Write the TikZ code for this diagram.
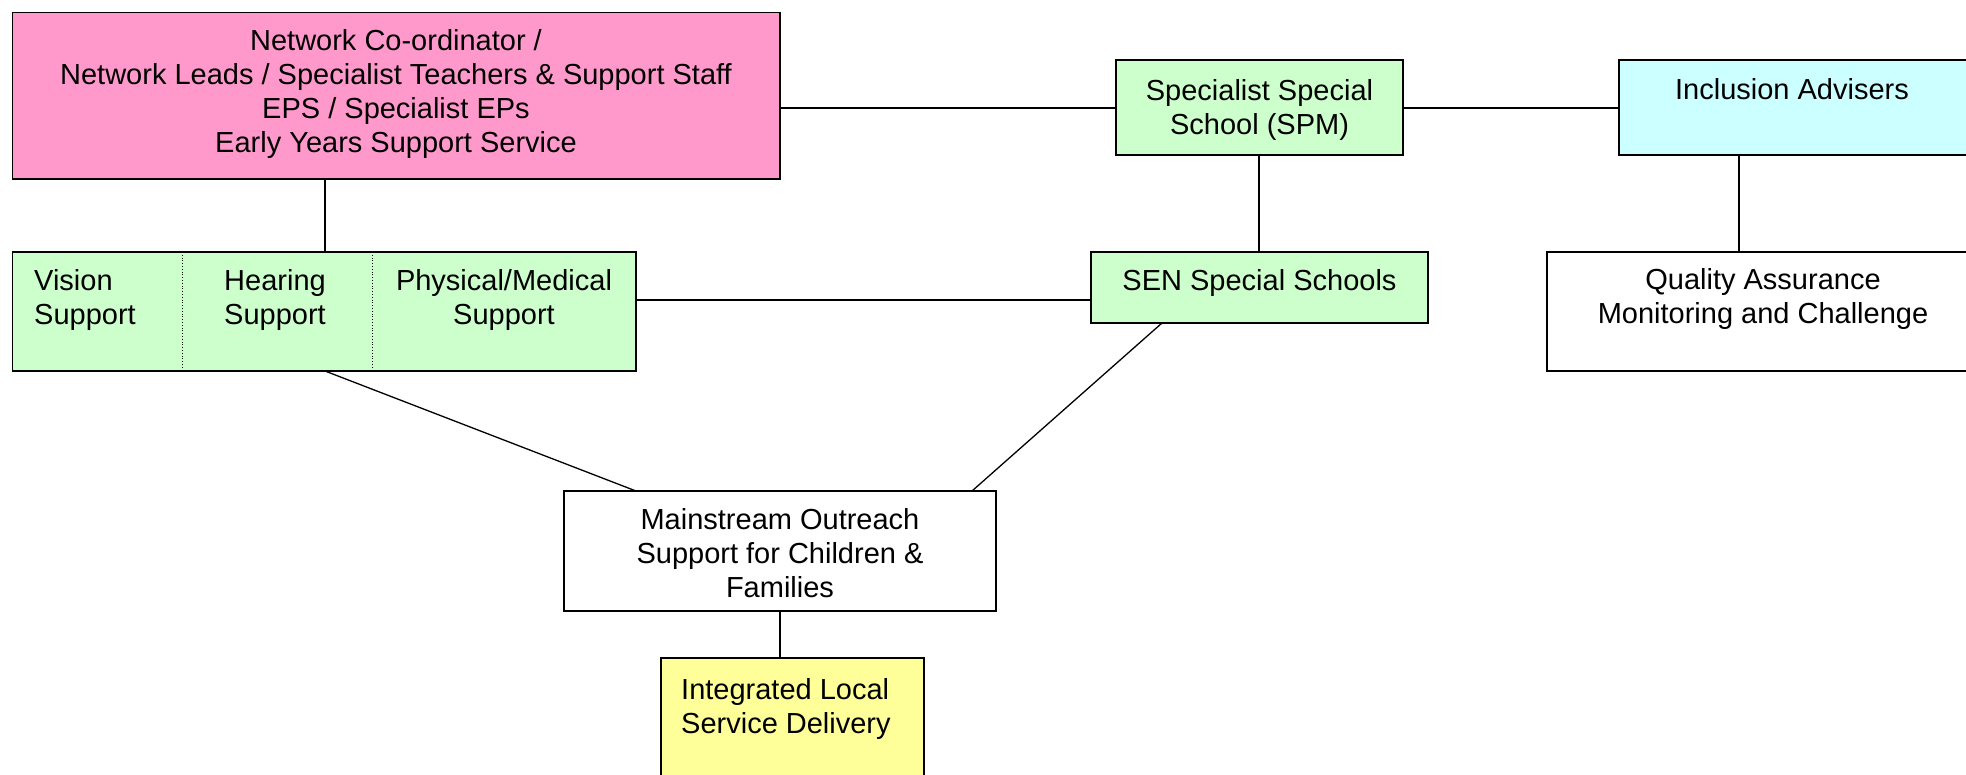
\documentclass[tikz,border=0pt]{standalone}
\usepackage{fontspec}
\setmainfont{Liberation Sans}
\definecolor{pinkfill}{HTML}{FF99CC}
\definecolor{greenfill}{HTML}{CCFFCC}
\definecolor{cyanfill}{HTML}{CCFFFF}
\definecolor{yellowfill}{HTML}{FFFF99}
\begin{document}
\begin{tikzpicture}[x=1pt,y=-1pt,
  box/.style={draw=black, line width=1.6pt, rectangle, inner sep=0pt, outer sep=0pt},
  txt/.style={inner sep=0pt, align=center, font=\fontsize{29}{34}\selectfont},
  link/.style={draw=black, line width=1.3pt},
  divider/.style={draw=black, line width=0.8pt, dotted}]
\useasboundingbox (0,0) rectangle (1966,775);
% boxes
\node[box, fill=pinkfill, minimum width=767.5pt, minimum height=166.5pt] (pink) at (396.25,95.75) {};
\node[box, fill=greenfill, minimum width=287pt, minimum height=95pt] (spm) at (1259.5,107.5) {};
\node[box, fill=cyanfill, minimum width=360pt, minimum height=95pt] (incl) at (1799,107.5) {};
\node[box, fill=greenfill, minimum width=623.5pt, minimum height=119pt] (vhp) at (324.25,311.5) {};
\node[box, fill=greenfill, minimum width=337pt, minimum height=71pt] (sen) at (1259.5,287.5) {};
\node[box, fill=white, minimum width=433pt, minimum height=119pt] (qa) at (1763.5,311.5) {};
\node[box, fill=white, minimum width=432pt, minimum height=120pt] (main) at (780,551) {};
\node[box, fill=yellowfill, minimum width=263pt, minimum height=140pt] (ild) at (792.5,728) {};
% dividers
\coordinate (d1) at (182,0);
\coordinate (d2) at (372,0);
\draw[divider] (vhp.north -| d1) -- (vhp.south -| d1);
\draw[divider] (vhp.north -| d2) -- (vhp.south -| d2);
% texts
\node[txt] (tpink) at (396,94) {Network Co-ordinator /\\Network Leads / Specialist Teachers \& Support Staff\\EPS / Specialist EPs\\Early Years Support Service};
\node[txt] (tspm) at (1259.5,109.5) {Specialist Special\\School (SPM)};
\node[txt] (tincl) at (1792,89.5) {Inclusion Advisers};
\node[txt, align=left, anchor=west] (tvis) at (34,300) {Vision\\Support};
\node[txt] (thear) at (275,300) {Hearing\\Support};
\node[txt] (tphys) at (504,300) {Physical/Medical\\Support};
\node[txt] (tsen) at (1259.5,283.5) {SEN Special Schools};
\node[txt] (tqa) at (1763,299) {Quality Assurance\\Monitoring and Challenge};
\node[txt] (tmain) at (780,553.5) {Mainstream Outreach\\Support for Children \&\\Families};
\node[txt, align=left, anchor=west] (tild) at (681,708.5) {Integrated Local\\Service Delivery};
% connectors
\coordinate (cpv) at (325,0);
\coordinate (cspm) at (1259,0);
\coordinate (cqa) at (1739,0);
\coordinate (cm1) at (636,0);
\coordinate (cm2) at (972,0);
\coordinate (cs1) at (1162,0);
\coordinate (cmi) at (780,0);
\coordinate (ytop) at (0,108);
\coordinate (yvs) at (0,300);
\draw[link] (pink.east |- ytop) -- (spm.west |- ytop);
\draw[link] (spm.east |- ytop) -- (incl.west |- ytop);
\draw[link] (pink.south -| cpv) -- (vhp.north -| cpv);
\draw[link] (spm.south -| cspm) -- (sen.north -| cspm);
\draw[link] (incl.south -| cqa) -- (qa.north -| cqa);
\draw[link] (vhp.east |- yvs) -- (sen.west |- yvs);
\draw[link] (vhp.south -| cpv) -- (main.north -| cm1);
\draw[link] (sen.south -| cs1) -- (main.north -| cm2);
\draw[link] (main.south -| cmi) -- (ild.north -| cmi);
\end{tikzpicture}
\end{document}
